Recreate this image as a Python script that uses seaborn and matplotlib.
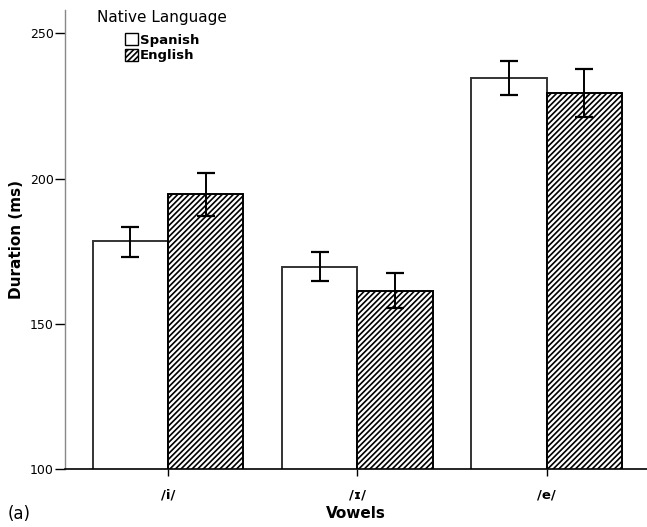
import matplotlib
matplotlib.use("Agg")
import matplotlib.pyplot as plt
import seaborn as sns
import pandas as pd
import numpy as np
from matplotlib.patches import Patch

vowels = ["/i/", "/ɪ/", "/e/"]
languages = ["Spanish", "English"]
spanish_mean = [178.4, 169.6, 234.5]
spanish_hi = [183.2, 174.6, 240.4]
spanish_lo = [172.9, 164.8, 228.8]
english_mean = [194.7, 161.4, 229.4]
english_hi = [202.1, 167.7, 237.8]
english_lo = [187.0, 155.5, 221.1]

df = pd.DataFrame({
    "Vowels": vowels * 2,
    "Native Language": ["Spanish"] * 3 + ["English"] * 3,
    "Duration": spanish_mean + english_mean,
})

sns.set_style("white")
plt.rcParams["font.family"] = ["DejaVu Sans"]
plt.rcParams["hatch.linewidth"] = 1.2
plt.rcParams["text.color"] = "black"
plt.rcParams["axes.labelcolor"] = "black"
plt.rcParams["xtick.color"] = "black"
plt.rcParams["ytick.color"] = "black"

fig = plt.figure(figsize=(6.47, 5.27), dpi=100)
ax = fig.add_axes([0.1, 0.1095, 0.9, 0.8715])

sns.barplot(data=df, x="Vowels", y="Duration", hue="Native Language",
            order=vowels, hue_order=languages, errorbar=None, width=0.795,
            palette=["white", "white"], ax=ax, legend=False)

styles = {"Spanish": dict(edgecolor="#333333", hatch=None),
          "English": dict(edgecolor="black", hatch="//////")}
lows = {"Spanish": spanish_lo, "English": english_lo}
highs = {"Spanish": spanish_hi, "English": english_hi}
for cont, lang in zip(ax.containers, languages):
    for i, p in enumerate(cont.patches):
        p.set_facecolor("white")
        p.set_edgecolor(styles[lang]["edgecolor"])
        p.set_linewidth(1.4)
        if styles[lang]["hatch"]:
            p.set_hatch(styles[lang]["hatch"])
        xc = p.get_x() + p.get_width() / 2
        h = p.get_height()
        ax.errorbar([xc], [h], yerr=[[h - lows[lang][i]], [highs[lang][i] - h]],
                    fmt="none", ecolor="black", elinewidth=1.4, capsize=6.8,
                    capthick=1.6, zorder=5)

ax.set_ylim(100, 258)
ax.set_xlim(-0.545, 2.53)
ax.set_yticks([100, 150, 200, 250])
sns.despine(ax=ax)
ax.spines["left"].set_color("#888888")
ax.spines["left"].set_linewidth(1.0)
ax.spines["bottom"].set_color("black")
ax.spines["bottom"].set_linewidth(1.2)
ax.tick_params(axis="y", direction="out", length=7, width=1, labelsize=9,
               left=True, colors="black", pad=1)
ax.tick_params(axis="x", direction="out", length=5, width=1, labelsize=9.5,
               bottom=True, colors="black", pad=9)
for t in ax.get_xticklabels():
    t.set_fontweight("semibold")
ax.set_xlabel("Vowels", fontsize=11, fontweight="bold", labelpad=3, color="black")
ax.set_ylabel("Duration (ms)", fontsize=11, fontweight="bold", labelpad=4, color="black")

handles = [Patch(facecolor="white", edgecolor="black", linewidth=1.0),
           Patch(facecolor="white", edgecolor="black", hatch="//////", linewidth=1.0)]
leg = ax.legend(handles, languages, title="Native Language", loc="upper left",
                bbox_to_anchor=(0.04, 1.02), frameon=False, fontsize=9.5,
                title_fontsize=11, handlelength=1.0, handleheight=1.0,
                handletextpad=0.15, labelspacing=0.15, borderpad=0.2)
leg._legend_box.sep = 6
leg.get_title().set_color("black")
for t in leg.get_texts():
    t.set_fontweight("semibold")
    t.set_color("black")

fig.text(0.012, 0.008, "(a)", fontsize=12, ha="left", va="bottom", color="black")

fig.savefig("out.png", dpi=100)
